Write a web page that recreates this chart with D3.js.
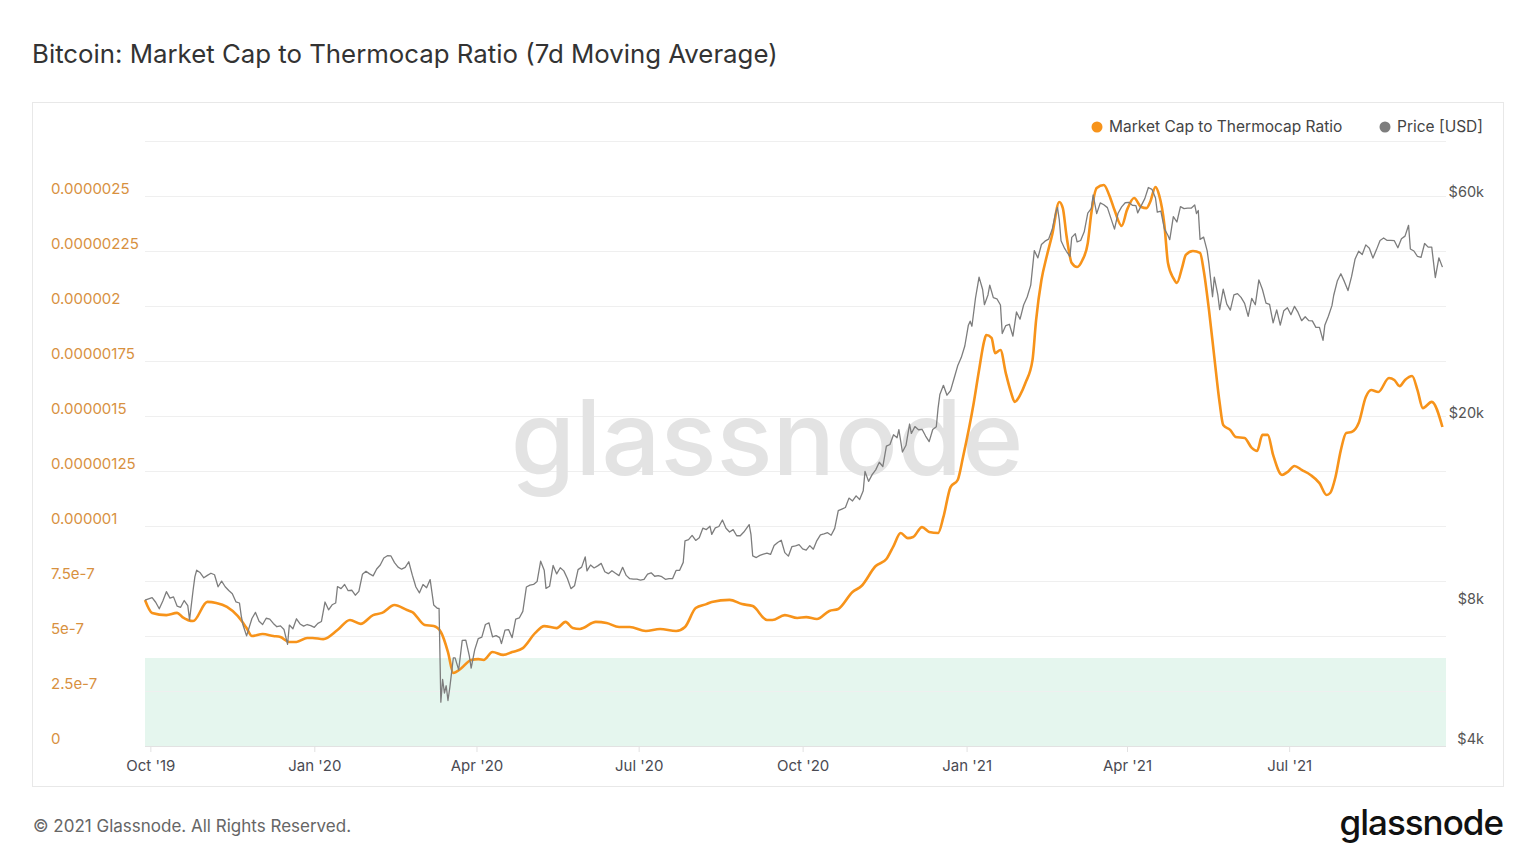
<html>
<head>
<meta charset="utf-8">
<script src="https://d3js.org/d3.v7.min.js"></script>
<style>
    body { margin:0; background:#fff; }
    text { font-family: Inter, "Noto Sans", sans-serif; }
</style>
</head>
<body>
<svg id="chart"></svg>
<script>

// Market Cap to Thermocap Ratio, 7d MA
var ratioSeries = [
    ["2019-09-28",6.64e-7],["2019-10-02",6.05e-7],["2019-10-10",5.95e-7],["2019-10-16",6.05e-7],
    ["2019-10-19",5.86e-7],["2019-10-25",5.68e-7],["2019-11-02",6.55e-7],["2019-11-07",6.50e-7],
    ["2019-11-13",6.32e-7],["2019-11-19",5.91e-7],["2019-11-24",5.36e-7],["2019-11-27",5.00e-7],
    ["2019-12-03",5.09e-7],["2019-12-09",5.00e-7],["2019-12-13",4.95e-7],["2019-12-18",4.73e-7],
    ["2019-12-22",4.73e-7],["2019-12-28",4.91e-7],["2019-12-31",4.91e-7],["2020-01-06",4.86e-7],
    ["2020-01-14",5.27e-7],["2020-01-21",5.73e-7],["2020-01-27",5.55e-7],["2020-02-03",5.95e-7],
    ["2020-02-08",6.05e-7],["2020-02-15",6.41e-7],["2020-02-22",6.18e-7],["2020-02-25",6.09e-7],
    ["2020-03-03",5.50e-7],["2020-03-08",5.45e-7],["2020-03-12",5.18e-7],["2020-03-16",4.27e-7],
    ["2020-03-19",3.32e-7],["2020-03-23",3.50e-7],["2020-03-29",3.91e-7],["2020-04-02",3.95e-7],
    ["2020-04-05",3.91e-7],["2020-04-10",4.27e-7],["2020-04-16",4.14e-7],["2020-04-21",4.27e-7],
    ["2020-04-27",4.45e-7],["2020-05-04",5.14e-7],["2020-05-09",5.45e-7],["2020-05-16",5.36e-7],
    ["2020-05-21",5.64e-7],["2020-05-25",5.36e-7],["2020-05-29",5.32e-7],["2020-06-07",5.64e-7],
    ["2020-06-13",5.59e-7],["2020-06-20",5.41e-7],["2020-06-26",5.41e-7],["2020-07-05",5.23e-7],
    ["2020-07-13",5.32e-7],["2020-07-22",5.23e-7],["2020-07-27",5.41e-7],["2020-08-02",6.27e-7],
    ["2020-08-08",6.45e-7],["2020-08-11",6.55e-7],["2020-08-21",6.64e-7],["2020-08-28",6.45e-7],
    ["2020-09-03",6.36e-7],["2020-09-11",5.73e-7],["2020-09-14",5.73e-7],["2020-09-21",5.95e-7],
    ["2020-09-28",5.82e-7],["2020-10-03",5.86e-7],["2020-10-09",5.77e-7],["2020-10-16",6.14e-7],
    ["2020-10-21",6.23e-7],["2020-10-29",7.00e-7],["2020-11-03",7.27e-7],["2020-11-11",8.18e-7],
    ["2020-11-17",8.50e-7],["2020-11-21",9.09e-7],["2020-11-25",9.68e-7],["2020-11-29",9.45e-7],
    ["2020-12-02",9.50e-7],["2020-12-07",9.95e-7],["2020-12-11",9.73e-7],["2020-12-16",9.68e-7],
    ["2020-12-19",10.41e-7],["2020-12-23",11.77e-7],["2020-12-27",12.09e-7],["2020-12-30",13.14e-7],
    ["2021-01-05",15.59e-7],["2021-01-08",17.09e-7],["2021-01-11",18.45e-7],["2021-01-12",18.68e-7],
    ["2021-01-15",18.55e-7],["2021-01-17",17.86e-7],["2021-01-20",18.00e-7],["2021-01-23",16.95e-7],
    ["2021-01-26",16.05e-7],["2021-01-28",15.64e-7],["2021-01-31",15.95e-7],["2021-02-03",16.50e-7],
    ["2021-02-07",17.55e-7],["2021-02-09",19.36e-7],["2021-02-12",21.18e-7],["2021-02-15",22.27e-7],
    ["2021-02-18",23.23e-7],["2021-02-22",24.73e-7],["2021-02-24",24.45e-7],["2021-02-26",23.23e-7],
    ["2021-03-01",21.95e-7],["2021-03-04",21.77e-7],["2021-03-07",22.09e-7],["2021-03-10",22.86e-7],
    ["2021-03-12",24.23e-7],["2021-03-15",25.36e-7],["2021-03-19",25.50e-7],["2021-03-22",25.05e-7],
    ["2021-03-25",24.36e-7],["2021-03-29",23.64e-7],["2021-04-01",24.36e-7],["2021-04-05",24.91e-7],
    ["2021-04-09",24.50e-7],["2021-04-12",24.45e-7],["2021-04-14",24.73e-7],["2021-04-17",25.41e-7],
    ["2021-04-19",25.05e-7],["2021-04-22",23.68e-7],["2021-04-24",21.95e-7],["2021-04-27",21.27e-7],
    ["2021-04-29",21.05e-7],["2021-05-02",21.77e-7],["2021-05-04",22.32e-7],["2021-05-08",22.50e-7],
    ["2021-05-12",22.41e-7],["2021-05-14",21.64e-7],["2021-05-17",19.82e-7],["2021-05-20",17.68e-7],
    ["2021-05-23",15.59e-7],["2021-05-25",14.59e-7],["2021-05-29",14.36e-7],["2021-06-01",14.05e-7],
    ["2021-06-06",14.00e-7],["2021-06-10",13.55e-7],["2021-06-13",13.41e-7],["2021-06-16",14.14e-7],
    ["2021-06-19",14.14e-7],["2021-06-22",13.23e-7],["2021-06-27",12.32e-7],["2021-06-30",12.45e-7],
    ["2021-07-04",12.73e-7],["2021-07-08",12.55e-7],["2021-07-13",12.32e-7],["2021-07-18",11.95e-7],
    ["2021-07-22",11.41e-7],["2021-07-24",11.50e-7],["2021-07-27",12.23e-7],["2021-07-30",13.45e-7],
    ["2021-08-02",14.23e-7],["2021-08-05",14.27e-7],["2021-08-09",14.68e-7],["2021-08-13",15.86e-7],
    ["2021-08-16",16.18e-7],["2021-08-20",16.09e-7],["2021-08-26",16.73e-7],["2021-08-29",16.64e-7],
    ["2021-09-01",16.36e-7],["2021-09-04",16.64e-7],["2021-09-08",16.82e-7],["2021-09-11",16.18e-7],
    ["2021-09-14",15.36e-7],["2021-09-19",15.64e-7],["2021-09-25",14.50e-7]
];

// BTC price [USD]
var priceSeries = [
    ["2019-09-28",8240],["2019-09-30",8290],["2019-10-02",8340],["2019-10-04",8150],["2019-10-06",7890],
    ["2019-10-08",8200],["2019-10-10",8590],["2019-10-12",8320],["2019-10-14",8370],["2019-10-16",8000],
    ["2019-10-18",7950],["2019-10-20",8220],["2019-10-22",8020],["2019-10-23",7470],["2019-10-25",8660],
    ["2019-10-26",9250],["2019-10-27",9550],["2019-10-29",9430],["2019-10-31",9200],["2019-11-02",9310],
    ["2019-11-04",9410],["2019-11-06",9340],["2019-11-08",8800],["2019-11-10",9050],["2019-11-12",8800],
    ["2019-11-14",8640],["2019-11-16",8500],["2019-11-18",8170],["2019-11-20",8120],["2019-11-21",7620],
    ["2019-11-22",7280],["2019-11-24",6900],["2019-11-25",7100],["2019-11-27",7520],["2019-11-29",7750],
    ["2019-12-01",7420],["2019-12-03",7300],["2019-12-05",7530],["2019-12-07",7500],["2019-12-09",7340],
    ["2019-12-11",7220],["2019-12-13",7250],["2019-12-15",7120],["2019-12-17",6620],["2019-12-18",7280],
    ["2019-12-20",7150],["2019-12-22",7510],["2019-12-24",7320],["2019-12-26",7240],["2019-12-28",7300],
    ["2019-12-30",7260],["2020-01-01",7200],["2020-01-03",7340],["2020-01-05",7410],["2020-01-07",8160],
    ["2020-01-09",7850],["2020-01-11",8050],["2020-01-13",8120],["2020-01-14",8810],["2020-01-16",8720],
    ["2020-01-18",8900],["2020-01-20",8630],["2020-01-22",8650],["2020-01-24",8440],["2020-01-26",8600],
    ["2020-01-28",9360],["2020-01-30",9500],["2020-02-01",9380],["2020-02-03",9290],["2020-02-05",9610],
    ["2020-02-07",9800],["2020-02-09",10150],["2020-02-11",10260],["2020-02-13",10250],["2020-02-15",9920],
    ["2020-02-17",9700],["2020-02-19",9600],["2020-02-21",9690],["2020-02-23",9960],["2020-02-25",9320],
    ["2020-02-27",8790],["2020-02-29",8540],["2020-03-02",8900],["2020-03-04",8760],["2020-03-06",9120],
    ["2020-03-08",8040],["2020-03-10",7910],["2020-03-11",7910],["2020-03-12",4970],["2020-03-13",5560],
    ["2020-03-14",5200],["2020-03-15",5390],["2020-03-16",5010],["2020-03-17",5330],["2020-03-19",6190],
    ["2020-03-20",6190],["2020-03-22",5830],["2020-03-24",6750],["2020-03-26",6760],["2020-03-28",6240],
    ["2020-03-29",5880],["2020-03-31",6440],["2020-04-02",6810],["2020-04-04",6860],["2020-04-06",7300],
    ["2020-04-08",7360],["2020-04-10",6870],["2020-04-12",6910],["2020-04-14",6840],["2020-04-15",6640],
    ["2020-04-17",7100],["2020-04-19",7120],["2020-04-21",6840],["2020-04-23",7500],["2020-04-25",7540],
    ["2020-04-27",7790],["2020-04-29",8790],["2020-05-01",8870],["2020-05-03",8900],["2020-05-05",9030],
    ["2020-05-07",9990],["2020-05-09",9550],["2020-05-10",8730],["2020-05-12",8820],["2020-05-14",9780],
    ["2020-05-16",9380],["2020-05-18",9670],["2020-05-20",9520],["2020-05-22",9170],["2020-05-24",8720],
    ["2020-05-26",8840],["2020-05-28",9580],["2020-05-30",9700],["2020-06-01",10200],["2020-06-02",9520],
    ["2020-06-04",9800],["2020-06-06",9660],["2020-06-08",9760],["2020-06-10",9880],["2020-06-12",9480],
    ["2020-06-14",9390],["2020-06-16",9530],["2020-06-18",9410],["2020-06-20",9300],["2020-06-22",9690],
    ["2020-06-24",9310],["2020-06-26",9160],["2020-06-28",9140],["2020-06-30",9140],["2020-07-02",9090],
    ["2020-07-04",9130],["2020-07-06",9370],["2020-07-08",9430],["2020-07-10",9270],["2020-07-12",9300],
    ["2020-07-14",9250],["2020-07-16",9130],["2020-07-18",9160],["2020-07-20",9160],["2020-07-22",9540],
    ["2020-07-24",9550],["2020-07-26",9930],["2020-07-27",11050],["2020-07-29",11110],["2020-07-31",11350],
    ["2020-08-02",11070],["2020-08-04",11220],["2020-08-06",11760],["2020-08-08",11680],["2020-08-10",11880],
    ["2020-08-11",11410],["2020-08-13",11780],["2020-08-15",11860],["2020-08-17",12250],["2020-08-19",11760],
    ["2020-08-21",11540],["2020-08-23",11680],["2020-08-25",11330],["2020-08-27",11330],["2020-08-29",11540],
    ["2020-09-01",11970],["2020-09-02",11410],["2020-09-03",10250],["2020-09-05",10170],["2020-09-07",10280],
    ["2020-09-09",10340],["2020-09-11",10390],["2020-09-13",10330],["2020-09-15",10790],["2020-09-17",10960],
    ["2020-09-19",11080],["2020-09-21",10420],["2020-09-23",10240],["2020-09-25",10740],["2020-09-27",10780],
    ["2020-09-29",10840],["2020-10-01",10620],["2020-10-03",10550],["2020-10-05",10790],["2020-10-07",10600],
    ["2020-10-09",11060],["2020-10-11",11380],["2020-10-13",11430],["2020-10-15",11500],["2020-10-17",11360],
    ["2020-10-19",11750],["2020-10-21",12830],["2020-10-23",12930],["2020-10-25",13030],["2020-10-27",13650],
    ["2020-10-29",13460],["2020-10-31",13800],["2020-11-02",13560],["2020-11-04",14160],["2020-11-05",15580],
    ["2020-11-07",14830],["2020-11-09",15330],["2020-11-11",15700],["2020-11-13",16300],["2020-11-15",15960],
    ["2020-11-17",17650],["2020-11-19",17800],["2020-11-21",18680],["2020-11-23",18410],["2020-11-24",19160],
    ["2020-11-26",17150],["2020-11-28",17730],["2020-11-30",19700],["2020-12-01",18800],["2020-12-03",19450],
    ["2020-12-05",19150],["2020-12-07",19190],["2020-12-09",18560],["2020-12-11",18050],["2020-12-13",19170],
    ["2020-12-15",19430],["2020-12-16",21310],["2020-12-17",22800],["2020-12-19",23860],["2020-12-21",22720],
    ["2020-12-23",23240],["2020-12-25",24710],["2020-12-27",26280],["2020-12-29",27370],["2020-12-31",28990],
    ["2021-01-02",32130],["2021-01-03",32780],["2021-01-04",31970],["2021-01-06",36770],["2021-01-08",40780],
    ["2021-01-10",38350],["2021-01-11",35570],["2021-01-13",37320],["2021-01-14",39190],["2021-01-16",36830],
    ["2021-01-18",36630],["2021-01-20",35510],["2021-01-21",30830],["2021-01-23",32080],["2021-01-25",32280],
    ["2021-01-27",30430],["2021-01-29",34320],["2021-01-31",33110],["2021-02-02",35510],["2021-02-04",36940],
    ["2021-02-06",39190],["2021-02-08",46480],["2021-02-10",44850],["2021-02-12",47910],["2021-02-14",48720],
    ["2021-02-16",49200],["2021-02-18",51600],["2021-02-20",56100],["2021-02-21",57540],["2021-02-22",54210],
    ["2021-02-23",48820],["2021-02-25",47000],["2021-02-26",46340],["2021-02-28",45140],["2021-03-01",49630],
    ["2021-03-03",50540],["2021-03-04",48560],["2021-03-06",48880],["2021-03-08",51020],["2021-03-10",55960],
    ["2021-03-12",57330],["2021-03-13",61240],["2021-03-15",55840],["2021-03-17",58870],["2021-03-19",58350],
    ["2021-03-21",57520],["2021-03-23",54530],["2021-03-25",51700],["2021-03-27",55950],["2021-03-29",57750],
    ["2021-03-31",58920],["2021-04-02",59060],["2021-04-04",58200],["2021-04-06",58080],["2021-04-07",56050],
    ["2021-04-09",58090],["2021-04-11",60150],["2021-04-13",63540],["2021-04-15",62970],["2021-04-17",60340],
    ["2021-04-18",56240],["2021-04-20",56500],["2021-04-22",51780],["2021-04-24",50100],["2021-04-25",49080],
    ["2021-04-27",55030],["2021-04-29",53570],["2021-05-01",57800],["2021-05-03",57230],["2021-05-05",57360],
    ["2021-05-07",57350],["2021-05-09",58280],["2021-05-10",55860],["2021-05-11",56700],["2021-05-12",49150],
    ["2021-05-14",49690],["2021-05-16",46420],["2021-05-17",43540],["2021-05-19",37000],["2021-05-20",40780],
    ["2021-05-22",37280],["2021-05-23",34700],["2021-05-25",38400],["2021-05-27",35680],["2021-05-29",34620],
    ["2021-05-31",37340],["2021-06-02",37580],["2021-06-04",36880],["2021-06-06",35800],["2021-06-08",33560],
    ["2021-06-10",36690],["2021-06-12",35550],["2021-06-14",40220],["2021-06-16",38350],["2021-06-18",35840],
    ["2021-06-20",35610],["2021-06-22",32510],["2021-06-24",34680],["2021-06-26",32140],["2021-06-28",34530],
    ["2021-06-30",35040],["2021-07-02",33860],["2021-07-04",35280],["2021-07-06",34240],["2021-07-08",32860],
    ["2021-07-10",33510],["2021-07-12",32880],["2021-07-14",32820],["2021-07-16",31800],["2021-07-18",31800],
    ["2021-07-20",29800],["2021-07-21",32110],["2021-07-23",33590],["2021-07-25",35400],["2021-07-26",37270],
    ["2021-07-28",39990],["2021-07-30",41460],["2021-08-01",39870],["2021-08-03",38150],["2021-08-05",40870],
    ["2021-08-07",44610],["2021-08-09",46360],["2021-08-11",45590],["2021-08-13",47830],["2021-08-15",47050],
    ["2021-08-17",44800],["2021-08-19",46720],["2021-08-21",48900],["2021-08-23",49500],["2021-08-25",48900],
    ["2021-08-27",48900],["2021-08-29",48830],["2021-08-31",47160],["2021-09-02",49300],["2021-09-04",49950],
    ["2021-09-06",52700],["2021-09-07",46870],["2021-09-09",46400],["2021-09-11",45160],["2021-09-13",44960],
    ["2021-09-15",48150],["2021-09-17",47300],["2021-09-19",47290],["2021-09-21",40690],["2021-09-23",44860],
    ["2021-09-25",42840]
];

var ratioTicks = [0,2.5e-7,5e-7,7.5e-7,1e-6,1.25e-6,1.5e-6,1.75e-6,2e-6,2.25e-6,2.5e-6,2.75e-6];
var ratioTickLabels = ["0","2.5e-7","5e-7","7.5e-7","0.000001","0.00000125","0.0000015",
                       "0.00000175","0.000002","0.00000225","0.0000025",""];
var priceTicks = [4000,8000,20000,60000];
var priceTickLabels = ["$4k","$8k","$20k","$60k"];
var quarterTicks = ["2019-10-01","2020-01-01","2020-04-01","2020-07-01",
                    "2020-10-01","2021-01-01","2021-04-01","2021-07-01"];
var quarterLabels = ["Oct '19","Jan '20","Apr '20","Jul '20","Oct '20","Jan '21","Apr '21","Jul '21"];
var zoneLow = 0, zoneHigh = 4e-7;

var parse = d3.utcParse("%Y-%m-%d");

var screen = {width:1536, height:864};
var plot = {left:145, right:1446, top:141, bottom:746};

var svg = d3.select("#chart")
    .attr("width",screen.width)
    .attr("height",screen.height);

//title
svg.append("text")
    .attr("x",32)
    .attr("y",63)
    .attr("font-size",25.8)
    .attr("font-weight",400)
    .attr("fill","#333")
    .text("Bitcoin: Market Cap to Thermocap Ratio (7d Moving Average)");

//panel
svg.append("rect")
    .attr("x",32.5).attr("y",102.5)
    .attr("width",1471).attr("height",684)
    .attr("fill","#fff")
    .attr("stroke","#e8e8e8");

//scales
var xScale = d3.scaleUtc()
    .domain([parse("2019-09-28"),parse("2021-09-27")])
    .range([plot.left,plot.right]);

var yRatio = d3.scaleLinear()
    .domain([0,2.75e-6])
    .range([plot.bottom,plot.top]);

var yPrice = d3.scaleLog()
    .domain([4000,80000])
    .range([plot.bottom,plot.top]);

//green zone
svg.append("rect")
    .attr("x",plot.left)
    .attr("y",yRatio(zoneHigh))
    .attr("width",plot.right-plot.left)
    .attr("height",yRatio(zoneLow)-yRatio(zoneHigh))
    .attr("fill","#e5f6ee");

//left axis with gridlines
var leftAxis = svg.append("g")
    .attr("transform","translate("+plot.left+",0)")
    .call(d3.axisLeft(yRatio)
        .tickValues(ratioTicks)
        .tickSize(-(plot.right-plot.left))
        .tickFormat(function(d,i){return ratioTickLabels[i];}));
leftAxis.select(".domain").remove();
leftAxis.selectAll("line").attr("stroke","#efefef");
leftAxis.selectAll("text")
    .attr("x",51-plot.left)
    .attr("dy",-3)
    .attr("text-anchor","start")
    .attr("font-size",15)
    .attr("font-family","Inter")
    .attr("fill","#d8913f");

//right axis
var rightAxis = svg.append("g")
    .attr("transform","translate("+plot.right+",0)")
    .call(d3.axisRight(yPrice)
        .tickValues(priceTicks)
        .tickSize(0)
        .tickFormat(function(d,i){return priceTickLabels[i];}));
rightAxis.select(".domain").remove();
rightAxis.selectAll("text")
    .attr("x",38)
    .attr("dy",-3)
    .attr("text-anchor","end")
    .attr("font-size",14.5)
    .attr("font-family","Inter")
    .attr("fill","#555");

//bottom axis
var bottomAxis = svg.append("g")
    .attr("transform","translate(0,"+plot.bottom+")")
    .call(d3.axisBottom(xScale)
        .tickValues(quarterTicks.map(parse))
        .tickSize(6)
        .tickPadding(8)
        .tickFormat(function(d,i){return quarterLabels[i];}));
bottomAxis.select(".domain")
    .attr("d","M"+plot.left+",0.5H"+plot.right)
    .attr("stroke","#e2e2e2");
bottomAxis.selectAll("line").attr("stroke","#e2e2e2");
bottomAxis.selectAll("text")
    .attr("font-size",15)
    .attr("font-family","Inter")
    .attr("fill","#4a4a52");

//watermark
svg.append("text")
    .attr("x",767)
    .attr("y",475)
    .attr("text-anchor","middle")
    .attr("font-size",104)
    .attr("font-weight",500)
    .attr("fill","#e3e3e3")
    .text("glassnode");

//lines
var ratioLine = d3.line()
    .x(function(d){return xScale(parse(d[0]));})
    .y(function(d){return yRatio(d[1]);})
    .curve(d3.curveMonotoneX);

var priceLine = d3.line()
    .x(function(d){return xScale(parse(d[0]));})
    .y(function(d){return yPrice(d[1]);});

svg.append("path")
    .datum(ratioSeries)
    .attr("d",ratioLine)
    .attr("fill","none")
    .attr("stroke","#f7931a")
    .attr("stroke-width",2.6)
    .attr("stroke-linejoin","round");

svg.append("path")
    .datum(priceSeries)
    .attr("d",priceLine)
    .attr("fill","none")
    .attr("stroke","#7d7d7d")
    .attr("stroke-width",1.3)
    .attr("stroke-linejoin","round");

//legend
var legend = [
    {label:"Market Cap to Thermocap Ratio", color:"#f7931a", x:1097},
    {label:"Price [USD]", color:"#7d7d7d", x:1385}
];
var items = svg.selectAll(".legend")
    .data(legend)
    .enter()
    .append("g")
    .classed("legend",true)
    .attr("transform",function(d){return "translate("+d.x+",127)";});
items.append("circle")
    .attr("r",5.5)
    .attr("fill",function(d){return d.color;});
items.append("text")
    .attr("x",12)
    .attr("y",5)
    .attr("font-size",15.5)
    .attr("fill","#444")
    .text(function(d){return d.label;});

//footer
svg.append("text")
    .attr("x",33)
    .attr("y",832)
    .attr("font-size",17)
    .attr("fill","#666")
    .text("\u00a9 2021 Glassnode. All Rights Reserved.");

svg.append("text")
    .attr("x",1503)
    .attr("y",835)
    .attr("text-anchor","end")
    .attr("font-size",35)
    .attr("font-weight",500)
    .attr("letter-spacing",-1)
    .attr("fill","#111")
    .text("glassnode");

</script>
</body>
</html>
